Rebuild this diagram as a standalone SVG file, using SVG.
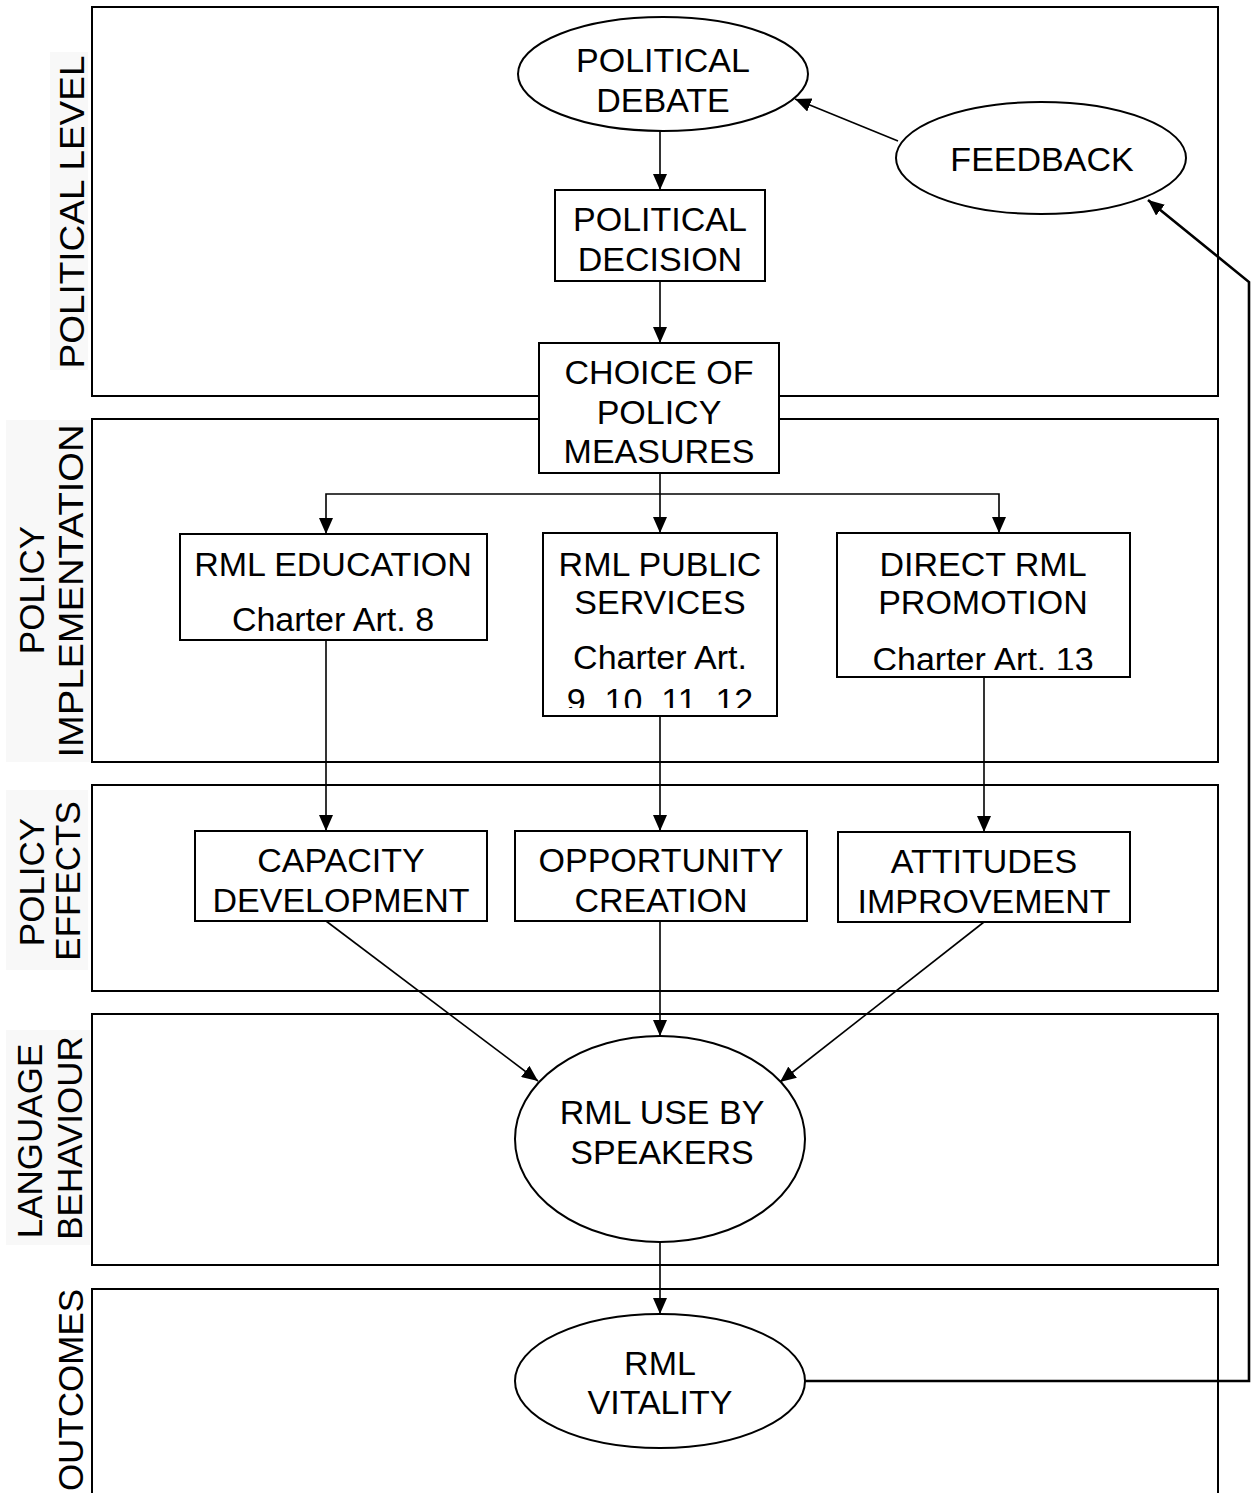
<svg xmlns="http://www.w3.org/2000/svg" width="1256" height="1493" viewBox="0 0 1256 1493">
  <style>
    .panel { fill: none; stroke: #000; stroke-width: 2; }
    .node { fill: #fff; stroke: #000; stroke-width: 2; }
    .t { font-family: "Liberation Sans", Arial, sans-serif; font-size: 34px; fill: #000; text-anchor: middle; }
    .lbl { font-family: "Liberation Sans", Arial, sans-serif; font-size: 35px; fill: #000; text-anchor: middle; }
    .lblbg { fill: #f8f8f8; }
    .edge { fill: none; stroke: #000; stroke-width: 1.6; }
    .loop { fill: none; stroke: #000; stroke-width: 2.6; }
  </style>
  <defs>
    <marker id="arrow" markerUnits="userSpaceOnUse" markerWidth="16" markerHeight="14" viewBox="0 0 16 14" refX="16" refY="7" orient="auto">
      <path d="M0,0 L16,7 L0,14 Z" fill="#000"/>
    </marker>
    <clipPath id="clipPublic"><rect x="543" y="533" width="234" height="175"/></clipPath>
    <clipPath id="clipDirect"><rect x="837" y="533" width="293" height="137"/></clipPath>
  </defs>

  <rect width="1256" height="1493" fill="#fff"/>

  <!-- level bands -->
  <g id="bands">
    <rect class="lblbg" x="50" y="52" width="38" height="318"/>
    <rect class="lblbg" x="6" y="420" width="84" height="342"/>
    <rect class="lblbg" x="6" y="790" width="82" height="180"/>
    <rect class="lblbg" x="6" y="1030" width="84" height="215"/>
    <rect class="panel" x="92" y="7" width="1126" height="389"/>
    <rect class="panel" x="92" y="419" width="1126" height="343"/>
    <rect class="panel" x="92" y="785" width="1126" height="206"/>
    <rect class="panel" x="92" y="1014" width="1126" height="251"/>
    <rect class="panel" x="92" y="1289" width="1126" height="230"/>
  </g>

  <!-- band labels -->
  <g id="band-labels">
    <text class="lbl" transform="translate(84,212) rotate(-90)" textLength="313" lengthAdjust="spacingAndGlyphs">POLITICAL LEVEL</text>
    <text class="lbl" transform="translate(44,590) rotate(-90)">POLICY</text>
    <text class="lbl" transform="translate(83,591) rotate(-90)" textLength="333" lengthAdjust="spacingAndGlyphs">IMPLEMENTATION</text>
    <text class="lbl" transform="translate(44,882) rotate(-90)">POLICY</text>
    <text class="lbl" transform="translate(80,881) rotate(-90)">EFFECTS</text>
    <text class="lbl" transform="translate(42,1141) rotate(-90)">LANGUAGE</text>
    <text class="lbl" transform="translate(82,1138) rotate(-90)">BEHAVIOUR</text>
    <text class="lbl" transform="translate(83,1390) rotate(-90)">OUTCOMES</text>
  </g>

  <!-- connectors -->
  <g id="connectors">
    <line class="edge" x1="660" y1="131" x2="660" y2="190" marker-end="url(#arrow)"/>
    <line class="edge" x1="660" y1="281" x2="660" y2="343" marker-end="url(#arrow)"/>
    <line class="edge" x1="660" y1="473" x2="660" y2="533" marker-end="url(#arrow)"/>
    <polyline class="edge" points="660,494 326,494 326,534" marker-end="url(#arrow)"/>
    <polyline class="edge" points="660,494 999,494 999,533" marker-end="url(#arrow)"/>
    <line class="edge" x1="326" y1="640" x2="326" y2="831" marker-end="url(#arrow)"/>
    <line class="edge" x1="660" y1="716" x2="660" y2="831" marker-end="url(#arrow)"/>
    <line class="edge" x1="984" y1="677" x2="984" y2="832" marker-end="url(#arrow)"/>
    <line class="edge" x1="326" y1="921" x2="538" y2="1081" marker-end="url(#arrow)"/>
    <line class="edge" x1="660" y1="921" x2="660" y2="1036" marker-end="url(#arrow)"/>
    <line class="edge" x1="984" y1="922" x2="780" y2="1082" marker-end="url(#arrow)"/>
    <line class="edge" x1="660" y1="1242" x2="660" y2="1314" marker-end="url(#arrow)"/>
    <line class="edge" x1="898" y1="141" x2="795" y2="99" marker-end="url(#arrow)"/>
    <polyline class="loop" points="805,1381 1249,1381 1249,282 1148,200" marker-end="url(#arrow)"/>
  </g>

  <!-- nodes -->
  <g id="political-debate">
    <ellipse class="node" cx="663" cy="74" rx="145" ry="57"/>
    <text class="t" x="663" y="72">POLITICAL</text>
    <text class="t" x="663" y="112">DEBATE</text>
  </g>
  <g id="feedback">
    <ellipse class="node" cx="1041" cy="158" rx="145" ry="56"/>
    <text class="t" x="1042" y="171">FEEDBACK</text>
  </g>
  <g id="political-decision">
    <rect class="node" x="555" y="190" width="210" height="91"/>
    <text class="t" x="660" y="231">POLITICAL</text>
    <text class="t" x="660" y="271">DECISION</text>
  </g>
  <g id="choice-of-policy-measures">
    <rect class="node" x="539" y="343" width="240" height="130"/>
    <text class="t" x="659" y="384">CHOICE OF</text>
    <text class="t" x="659" y="424">POLICY</text>
    <text class="t" x="659" y="463">MEASURES</text>
  </g>
  <g id="rml-education">
    <rect class="node" x="180" y="534" width="307" height="106"/>
    <text class="t" x="333" y="576">RML EDUCATION</text>
    <text class="t" x="333" y="631">Charter Art. 8</text>
  </g>
  <g id="rml-public-services">
    <rect class="node" x="543" y="533" width="234" height="183"/>
    <g clip-path="url(#clipPublic)">
      <text class="t" x="660" y="576">RML PUBLIC</text>
      <text class="t" x="660" y="614">SERVICES</text>
      <text class="t" x="660" y="669">Charter Art.</text>
      <text class="t" x="660" y="712">9. 10. 11. 12</text>
    </g>
  </g>
  <g id="direct-rml-promotion">
    <rect class="node" x="837" y="533" width="293" height="144"/>
    <g clip-path="url(#clipDirect)">
      <text class="t" x="983" y="576">DIRECT RML</text>
      <text class="t" x="983" y="614">PROMOTION</text>
      <text class="t" x="983" y="671">Charter Art. 13</text>
    </g>
  </g>
  <g id="capacity-development">
    <rect class="node" x="195" y="831" width="292" height="90"/>
    <text class="t" x="341" y="872">CAPACITY</text>
    <text class="t" x="341" y="912">DEVELOPMENT</text>
  </g>
  <g id="opportunity-creation">
    <rect class="node" x="515" y="831" width="292" height="90"/>
    <text class="t" x="661" y="872">OPPORTUNITY</text>
    <text class="t" x="661" y="912">CREATION</text>
  </g>
  <g id="attitudes-improvement">
    <rect class="node" x="838" y="832" width="292" height="90"/>
    <text class="t" x="984" y="873">ATTITUDES</text>
    <text class="t" x="984" y="913">IMPROVEMENT</text>
  </g>
  <g id="rml-use-by-speakers">
    <ellipse class="node" cx="660" cy="1139" rx="145" ry="103"/>
    <text class="t" x="662" y="1124">RML USE BY</text>
    <text class="t" x="662" y="1164">SPEAKERS</text>
  </g>
  <g id="rml-vitality">
    <ellipse class="node" cx="660" cy="1381" rx="145" ry="67"/>
    <text class="t" x="660" y="1375">RML</text>
    <text class="t" x="660" y="1414">VITALITY</text>
  </g>
</svg>
